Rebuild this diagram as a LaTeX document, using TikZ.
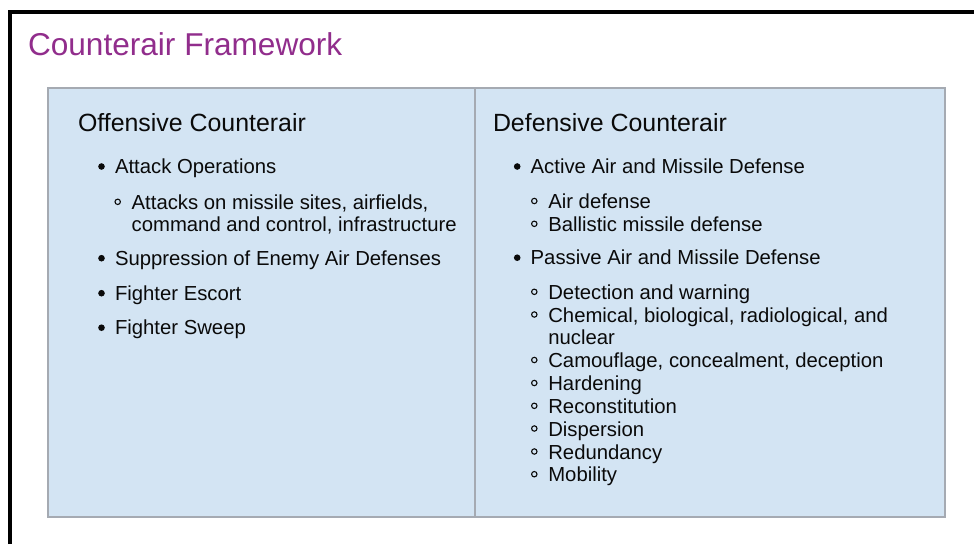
\documentclass[tikz,border=0pt]{standalone}
\usepackage{fontspec}
\setmainfont{Liberation Sans}
\usetikzlibrary{positioning}
\definecolor{titlepurple}{RGB}{145,45,140}
\definecolor{panelblue}{RGB}{211,228,243}
\definecolor{panelgray}{RGB}{165,170,178}
\definecolor{textblack}{RGB}{10,10,10}

\begin{document}
\begin{tikzpicture}[x=1pt,y=-1pt,
    every node/.style={inner sep=0pt,outer sep=0pt,anchor=base west,text=textblack},
    titletext/.style={font=\fontsize{31.6}{36}\selectfont,text=titlepurple},
    headtext/.style={font=\fontsize{24.9}{28}\selectfont},
    itemtext/.style={font=\fontsize{20.3}{23}\selectfont},
    dot/.style={fill=textblack},
    ring/.style={draw=textblack,line width=1.1pt}]
%the page
    \fill[white] (0,0) rectangle (974,544);
    \useasboundingbox (0,0) rectangle (974,544);
    \draw[line width=3.7pt] (10,544) -- (10,11.7) -- (974,11.7);
    \node[titletext] (title) at (28,55) {Counterair Framework};

%the panel
    \filldraw[fill=panelblue,draw=panelgray,line width=1.5pt] (48,88) rectangle (945,517);
    \draw[panelgray,line width=1.2pt] (475,88) -- (475,517);

%offensive column
    \node[headtext] (offhead) at (78,131) {Offensive Counterair};
    \node[itemtext] (o1) at (115,173.3) {Attack Operations};
    \node[itemtext] (o1a) at (131.7,209.3) {Attacks on missile sites, airfields,};
    \node[itemtext] (o1b) at (131.7,231.5) {command and control, infrastructure};
    \node[itemtext] (o2) at (115,265) {Suppression of Enemy Air Defenses};
    \node[itemtext] (o3) at (115,300) {Fighter Escort};
    \node[itemtext] (o4) at (115,334.5) {Fighter Sweep};

%defensive column
    \node[headtext] (defhead) at (493,131) {Defensive Counterair};
    \node[itemtext] (d1) at (530.7,173.3) {Active Air and Missile Defense};
    \node[itemtext] (d1a) at (548.3,208.5) {Air defense};
    \node[itemtext] (d1b) at (548.3,231.3) {Ballistic missile defense};
    \node[itemtext] (d2) at (530.7,264.5) {Passive Air and Missile Defense};
    \node[itemtext] (d2a) at (548.3,299.3) {Detection and warning};
    \node[itemtext] (d2b) at (548.3,322) {Chemical, biological, radiological, and};
    \node[itemtext] (d2c) at (548.3,344.5) {nuclear};
    \node[itemtext] (d2d) at (548.3,367.5) {Camouflage, concealment, deception};
    \node[itemtext] (d2e) at (548.3,390.5) {Hardening};
    \node[itemtext] (d2f) at (548.3,413.3) {Reconstitution};
    \node[itemtext] (d2g) at (548.3,436) {Dispersion};
    \node[itemtext] (d2h) at (548.3,459) {Redundancy};
    \node[itemtext] (d2i) at (548.3,481.7) {Mobility};

%the bullets
    \foreach \n in {o1,o2,o3,o4,d1,d2}
      \fill[dot] ([xshift=-13.5pt,yshift=6.8pt]\n.base west) circle (3.3pt);
    \foreach \n in {o1a,d1a,d1b,d2a,d2b,d2d,d2e,d2f,d2g,d2h,d2i}
      \draw[ring] ([xshift=-14pt,yshift=7.5pt]\n.base west) circle (2.7pt);
\end{tikzpicture}
\end{document}
